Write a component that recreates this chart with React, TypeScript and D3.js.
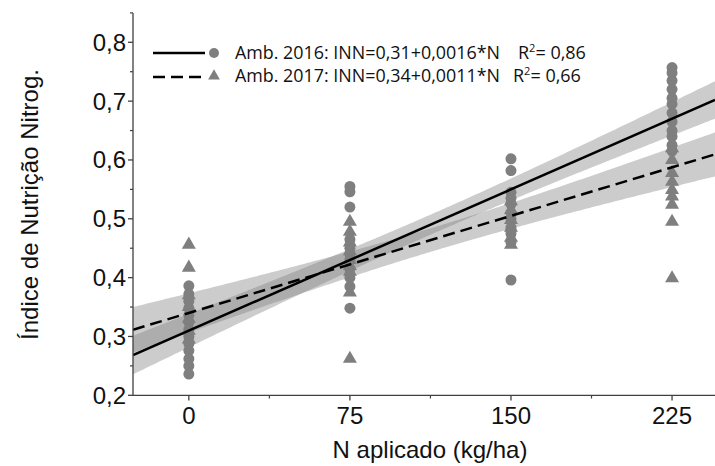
import React from "react";
import * as d3 from "d3";

const W = 715;
const H = 466;

// Data
const levels = [0, 75, 150, 225];
const xTicks = [0, 75, 150, 225];
const xMinorTicks = [37.5, 112.5, 187.5];
const yTicks = [0.2, 0.3, 0.4, 0.5, 0.6, 0.7, 0.8];
const yMinorTicks = [0.25, 0.35, 0.45, 0.55, 0.65, 0.75, 0.85];

const amb2016_N0 = [0.386, 0.372, 0.36, 0.348, 0.336, 0.324, 0.312, 0.3, 0.288, 0.276, 0.262, 0.25, 0.236];
const amb2016_N75 = [0.555, 0.546, 0.52, 0.465, 0.45, 0.44, 0.43, 0.415, 0.4, 0.385, 0.348];
const amb2016_N150 = [0.602, 0.582, 0.545, 0.535, 0.525, 0.51, 0.5, 0.485, 0.475, 0.46, 0.396];
const amb2016_N225 = [0.757, 0.748, 0.735, 0.72, 0.705, 0.695, 0.68, 0.665, 0.65, 0.64, 0.625, 0.615];

const amb2017_N0 = [0.456, 0.417, 0.37, 0.35, 0.33, 0.31, 0.295];
const amb2017_N75 = [0.495, 0.478, 0.46, 0.445, 0.43, 0.42, 0.41, 0.375, 0.262];
const amb2017_N150 = [0.53, 0.515, 0.498, 0.485, 0.468, 0.456];
const amb2017_N225 = [0.62, 0.6, 0.578, 0.563, 0.549, 0.538, 0.524, 0.495, 0.399];

// Regression: intercept, slope, half-width of confidence band at mean N
const reg2016 = { a: 0.31, b: 0.0016, hw: 0.017 };
const reg2017 = { a: 0.34, b: 0.0011, hw: 0.02 };
const meanN = 112.5;
const varN = 7031;

const legendLabels = ["Amb. 2016: INN=0,31+0,0016*N", "Amb. 2017: INN=0,34+0,0011*N"];
const legendR2 = ["0,86", "0,66"];

const xDomain: [number, number] = [-26, 245];
const yDomain: [number, number] = [0.2, 0.85];

const fmt = d3
  .formatLocale({ decimal: ",", thousands: ".", grouping: [3], currency: ["", ""] })
  .format(".1f");

const GRAY = "#7f7f7f";
const AXIS = "#404040";
const FONT = "'Liberation Sans', Arial, sans-serif";
const LEG_FONT = "'Open Sans', 'Noto Sans', sans-serif";

export default function App() {
  const x = d3.scaleLinear().domain(xDomain).range([133, 715]);
  const y = d3.scaleLinear().domain([0.2, 0.8]).range([395.3, 42.3]);

  const group2016 = [amb2016_N0, amb2016_N75, amb2016_N150, amb2016_N225];
  const group2017 = [amb2017_N0, amb2017_N75, amb2017_N150, amb2017_N225];

  const xs = d3.range(xDomain[0], xDomain[1] + 0.01, 1);
  const band = (r: { a: number; b: number; hw: number }) =>
    d3
      .area<number>()
      .x((n) => x(n))
      .y0((n) => y(r.a + r.b * n - r.hw * Math.sqrt(1 + ((n - meanN) ** 2) / varN)))
      .y1((n) => y(r.a + r.b * n + r.hw * Math.sqrt(1 + ((n - meanN) ** 2) / varN)))(xs) || "";
  const line = (r: { a: number; b: number }) =>
    d3
      .line<number>()
      .x((n) => x(n))
      .y((n) => y(r.a + r.b * n))(xDomain) || "";

  const tri = d3.symbol().type(d3.symbolTriangle).size(85)() || "";
  const triLeg = d3.symbol().type(d3.symbolTriangle).size(60)() || "";

  return (
    <svg width={W} height={H} style={{ position: "absolute", left: 0, top: 0, background: "#fff" }}>
      <rect x={0} y={0} width={W} height={H} fill="#fff" />
      <defs>
        <clipPath id="plot">
          <rect x={133} y={0} width={W - 133} height={395.3} />
        </clipPath>
      </defs>
      <g clipPath="url(#plot)">
        <path d={band(reg2016)} fill="#808080" fillOpacity={0.4} />
        <path d={band(reg2017)} fill="#808080" fillOpacity={0.4} />
        {group2016.map((vals, i) =>
          vals.map((v, j) => (
            <circle key={`c${i}-${j}`} cx={x(levels[i])} cy={y(v)} r={5.5} fill={GRAY} />
          ))
        )}
        {group2017.map((vals, i) =>
          vals.map((v, j) => (
            <path key={`t${i}-${j}`} d={tri} transform={`translate(${x(levels[i])},${y(v)})`} fill={GRAY} />
          ))
        )}
        <path d={line(reg2016)} stroke="#000" strokeWidth={2.5} fill="none" />
        <path d={line(reg2017)} stroke="#000" strokeWidth={2.5} fill="none" strokeDasharray="12,6" />
      </g>

      {/* Y axis */}
      <line x1={133} x2={133} y1={y(yDomain[1])} y2={395.3} stroke={AXIS} strokeWidth={1.3} />
      {yTicks.map((t) => (
        <g key={`yt${t}`}>
          <line x1={128} x2={133} y1={y(t)} y2={y(t)} stroke={AXIS} strokeWidth={1.3} />
          <text x={126} y={y(t) + 8.5} textAnchor="end" fontFamily={FONT} fontSize={24} fill="#111">
            {fmt(t)}
          </text>
        </g>
      ))}
      {yMinorTicks.map((t) => (
        <line key={`ym${t}`} x1={130} x2={133} y1={y(t)} y2={y(t)} stroke={AXIS} strokeWidth={1.2} />
      ))}

      {/* X axis */}
      <line x1={133} x2={715} y1={395.3} y2={395.3} stroke={AXIS} strokeWidth={1.3} />
      {xTicks.map((t) => (
        <g key={`xt${t}`}>
          <line x1={x(t)} x2={x(t)} y1={395.3} y2={400.5} stroke={AXIS} strokeWidth={1.3} />
          <text x={x(t)} y={424} textAnchor="middle" fontFamily={FONT} fontSize={24} fill="#111">
            {t}
          </text>
        </g>
      ))}
      {xMinorTicks.map((t) => (
        <line key={`xm${t}`} x1={x(t)} x2={x(t)} y1={395.3} y2={398.5} stroke={AXIS} strokeWidth={1.2} />
      ))}

      {/* Axis titles */}
      <text x={430} y={458} textAnchor="middle" fontFamily={FONT} fontSize={24} fill="#111">
        N aplicado (kg/ha)
      </text>
      <text
        transform="translate(38,204.5) rotate(-90)"
        textAnchor="middle"
        fontFamily={FONT}
        fontSize={24}
        fill="#111"
      >
        Índice de Nutrição Nitrog.
      </text>

      {/* Legend */}
      <line x1={153} x2={205} y1={53} y2={53} stroke="#000" strokeWidth={2.5} />
      <circle cx={214} cy={53} r={5} fill={GRAY} />
      <text x={235} y={58.5} fontFamily={LEG_FONT} fontSize={18} fill="#111" textLength={265} lengthAdjust="spacingAndGlyphs">
        {legendLabels[0]}
      </text>
      <text x={518} y={58.5} fontFamily={LEG_FONT} fontSize={18} fill="#111">
        R<tspan fontSize={11} dy={-7}>2</tspan>
        <tspan dy={7}>= {legendR2[0]}</tspan>
      </text>
      <line x1={153} x2={205} y1={77} y2={77} stroke="#000" strokeWidth={2.5} strokeDasharray="12,6" />
      <path d={triLeg} transform="translate(214,76)" fill={GRAY} />
      <text x={235} y={82} fontFamily={LEG_FONT} fontSize={18} fill="#111" textLength={265} lengthAdjust="spacingAndGlyphs">
        {legendLabels[1]}
      </text>
      <text x={513} y={82} fontFamily={LEG_FONT} fontSize={18} fill="#111">
        R<tspan fontSize={11} dy={-7}>2</tspan>
        <tspan dy={7}>= {legendR2[1]}</tspan>
      </text>
    </svg>
  );
}
